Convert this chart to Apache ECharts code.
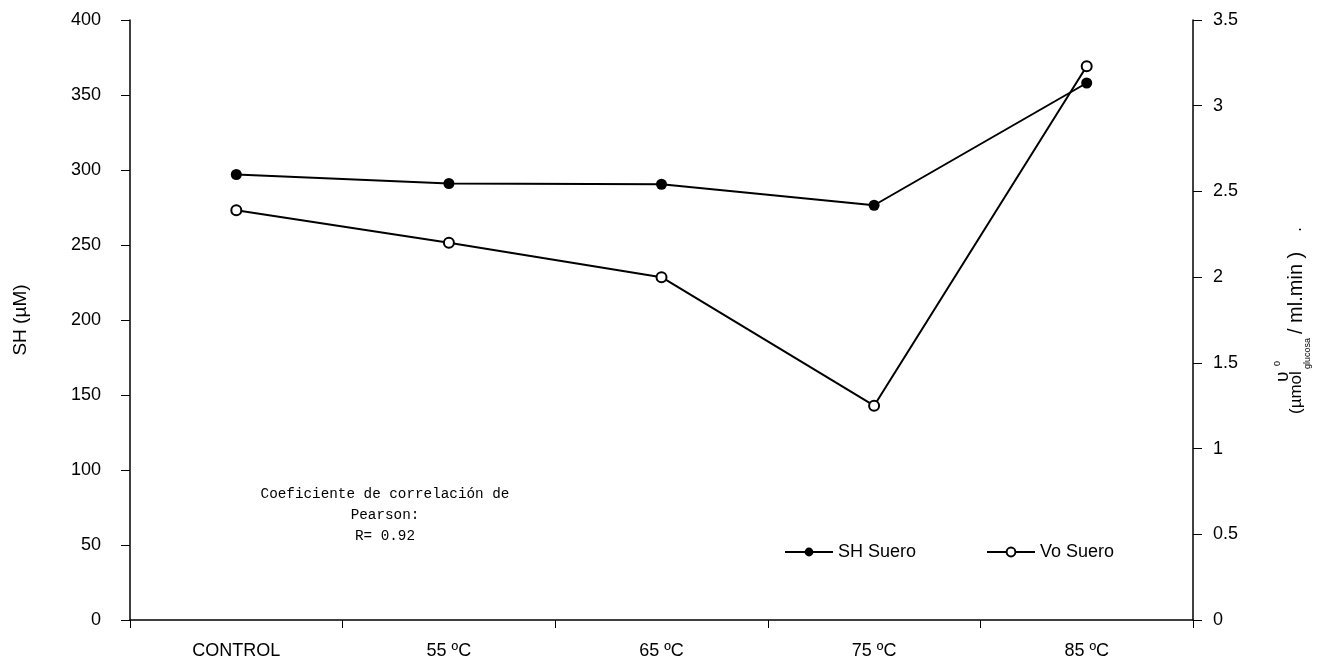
<!DOCTYPE html>
<html>
<head>
<meta charset="utf-8">
<script src="https://cdn.jsdelivr.net/npm/echarts@6/dist/echarts.min.js"></script>
<style>
  html, body { margin: 0; padding: 0; background: #fff; }
  #chart { width: 1321px; height: 666px; }
</style>
</head>
<body>
<div id="chart"></div>
<script>
// Treatments (serum samples heated at each temperature)
const categories = ['CONTROL', '55 ºC', '65 ºC', '75 ºC', '85 ºC'];
// Sulfhydryl groups in serum, µM (left axis)
const shSuero = [297, 291, 290.5, 276.5, 358];
// Initial velocity, µmol glucose / ml.min (right axis)
const voSuero = [2.39, 2.2, 2.0, 1.25, 3.23];
// Axis tick values
const leftTicks = [0, 50, 100, 150, 200, 250, 300, 350, 400];
const rightTicks = [0, 0.5, 1, 1.5, 2, 2.5, 3, 3.5];

const FONT = '"Liberation Sans", Arial, sans-serif';
const MONO = '"Liberation Mono", "Courier New", monospace';

const chart = echarts.init(document.getElementById('chart'), null, { renderer: 'canvas' });

const axisCommon = {
  axisLine: { show: true, lineStyle: { color: '#000', width: 1.5 } },
  axisTick: { show: true, inside: false, length: 9, lineStyle: { color: '#000', width: 1 } },
  splitLine: { show: false }
};

const legendText = { fontFamily: FONT, fontSize: 18, color: '#000' };

chart.setOption({
  backgroundColor: '#fff',
  animation: false,
  grid: { left: 130, right: 128, top: 20, bottom: 46, containLabel: false },
  legend: [
    {
      left: 779, top: 538,
      itemWidth: 48, itemHeight: 11, itemGap: 6,
      data: ['SH Suero'],
      textStyle: legendText
    },
    {
      left: 981, top: 538,
      itemWidth: 48, itemHeight: 11, itemGap: 6,
      data: ['Vo Suero'],
      textStyle: legendText
    }
  ],
  xAxis: {
    type: 'category',
    data: categories,
    boundaryGap: true,
    ...axisCommon,
    axisTick: { show: true, length: 8, alignWithLabel: false, lineStyle: { color: '#000', width: 1 } },
    axisLabel: { fontFamily: FONT, fontSize: 18, color: '#000', margin: 22 }
  },
  yAxis: [
    {
      type: 'value',
      min: leftTicks[0], max: leftTicks[leftTicks.length - 1], interval: leftTicks[1] - leftTicks[0],
      position: 'left',
      ...axisCommon,
      axisLabel: { fontFamily: FONT, fontSize: 18, color: '#000', margin: 29 },
      name: 'SH (µM)',
      nameLocation: 'middle',
      nameGap: 100,
      nameRotate: 90,
      nameTextStyle: { fontFamily: FONT, fontSize: 19, color: '#000' }
    },
    {
      type: 'value',
      min: rightTicks[0], max: rightTicks[rightTicks.length - 1], interval: rightTicks[1] - rightTicks[0],
      position: 'right',
      ...axisCommon,
      axisLabel: { fontFamily: FONT, fontSize: 18, color: '#000', margin: 20 }
    }
  ],
  series: [
    {
      name: 'SH Suero',
      type: 'line',
      yAxisIndex: 0,
      data: shSuero,
      symbol: 'circle',
      symbolSize: 11,
      lineStyle: { color: '#000', width: 2 },
      itemStyle: { color: '#000', borderColor: '#000', borderWidth: 0 },
      z: 3
    },
    {
      name: 'Vo Suero',
      type: 'line',
      yAxisIndex: 1,
      data: voSuero,
      symbol: 'circle',
      symbolSize: 10,
      lineStyle: { color: '#000', width: 2 },
      itemStyle: { color: '#fff', borderColor: '#000', borderWidth: 2 },
      z: 3
    }
  ],
  graphic: [
    // Correlation note
    {
      type: 'text',
      x: 385, y: 484,
      style: {
        text: 'Coeficiente de correlación de\nPearson:\nR= 0.92',
        font: '14.3px ' + MONO,
        fill: '#000',
        align: 'center',
        verticalAlign: 'top',
        lineHeight: 21
      }
    },
    // Right axis title, rotated to read upward
    {
      type: 'group',
      x: 1296, y: 414,
      rotation: Math.PI / 2,
      children: [
        { type: 'text', x: 0, y: 0, style: { text: '(µmol', font: '17px ' + FONT, fill: '#000', align: 'left', verticalAlign: 'middle' } },
        { type: 'text', x: 32, y: -13, style: { text: 'υ', font: '19px ' + FONT, fill: '#000', align: 'left', verticalAlign: 'middle' } },
        { type: 'text', x: 48, y: -18, style: { text: '0', font: '9px ' + FONT, fill: '#000', align: 'left', verticalAlign: 'middle' } },
        { type: 'text', x: 45, y: 12, style: { text: 'glucosa', font: '9px ' + FONT, fill: '#000', align: 'left', verticalAlign: 'middle' } },
        { type: 'text', x: 80, y: 0, style: { text: '/ ml.min )', font: '20px ' + FONT, fill: '#000', align: 'left', verticalAlign: 'middle' } },
        { type: 'text', x: 182, y: 0, style: { text: '.', font: '18px ' + FONT, fill: '#000', align: 'left', verticalAlign: 'middle' } }
      ]
    }
  ]
});
</script>
</body>
</html>
